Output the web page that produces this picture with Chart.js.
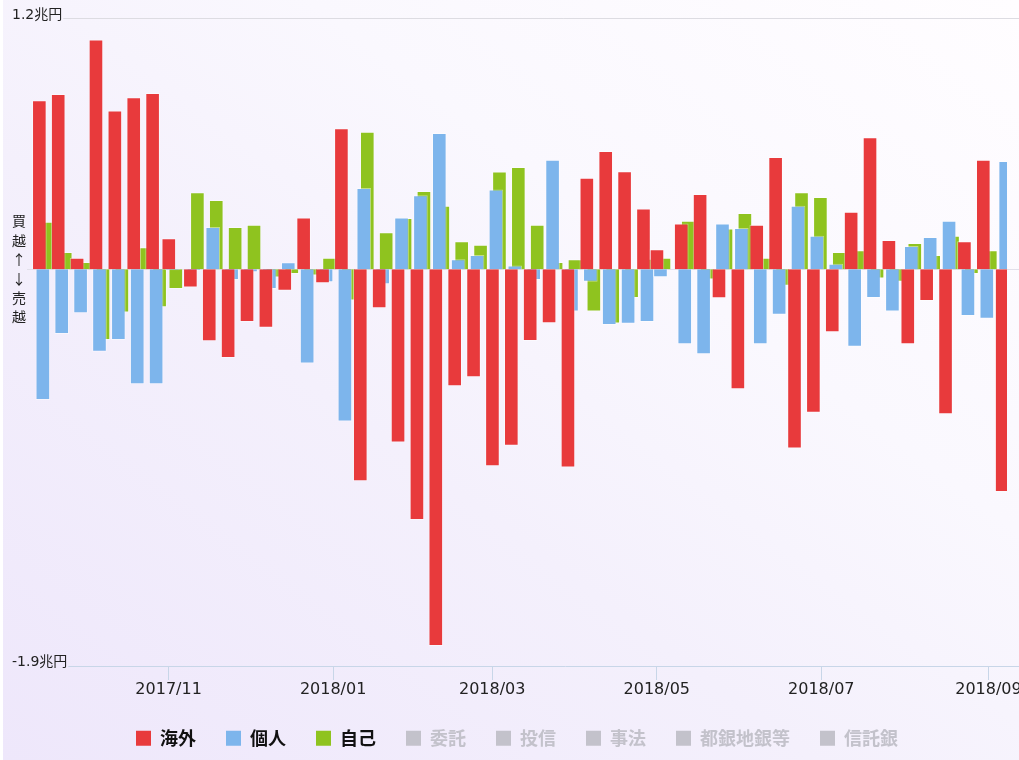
<!DOCTYPE html>
<html lang="ja">
<head>
<meta charset="utf-8">
<title>投資部門別売買動向</title>
<script src="https://cdn.jsdelivr.net/npm/chart.js@4.4.1/dist/chart.umd.min.js"></script>
<style>
  html, body { margin: 0; padding: 0; background: #fff; overflow: hidden; }
  #wrap {
    position: absolute; left: 3px; top: 0; width: 1016px; height: 760px; overflow: hidden;
    background: linear-gradient(to top right, #eee7fb 0%, #f4f0fc 40%, #faf8fe 65%, #fffdff 100%);
  }
  #box { position: relative; width: 1060px; height: 760px; }
</style>
</head>
<body>
<div id="wrap"><div id="box"><canvas id="chart"></canvas></div></div>
<script>
// --- data (億円, weekly net buying; x = last trading day of the week) ---
const weeks = [
  '2017-09-15','2017-09-22','2017-09-29','2017-10-06','2017-10-13','2017-10-20','2017-10-27',
  '2017-11-02','2017-11-10','2017-11-17','2017-11-24','2017-12-01','2017-12-08','2017-12-15',
  '2017-12-22','2017-12-29','2018-01-05','2018-01-12','2018-01-19','2018-01-26','2018-02-02',
  '2018-02-09','2018-02-16','2018-02-23','2018-03-02','2018-03-09','2018-03-16','2018-03-23',
  '2018-03-30','2018-04-06','2018-04-13','2018-04-20','2018-04-27','2018-05-02','2018-05-11',
  '2018-05-18','2018-05-25','2018-06-01','2018-06-08','2018-06-15','2018-06-22','2018-06-29',
  '2018-07-06','2018-07-13','2018-07-20','2018-07-27','2018-08-03','2018-08-10','2018-08-17',
  '2018-08-24','2018-08-31','2018-09-07'
];
const kaigai = [
  8090, 8390, 540, 11000, 7590, 8230, 8430,
  1480, -880, -3450, -4250, -2530, -2810, -1030,
  2470, -680, 6740, -10150, -1870, -8300, -12010,
  -18040, -5610, -5180, -9440, -8450, -3440, -2590,
  -9500, 4380, 5660, 4690, 2900, 950, 2180,
  3600, -1390, -5750, 2120, 5370, -8590, -6870,
  -3020, 2750, 6310, 1400, -3600, -1520, -6950,
  1340, 5240, -10670
];
const kojin = [
  -6260, -3100, -2110, -3950, -3390, -5510, -5510,
  -50, -80, 2020, -520, -150, -950, 330,
  -4520, -630, -7300, 3890, -720, 2470, 3540,
  6520, 470, 680, 3810, 170, -520, 5240,
  -2030, -600, -2670, -2610, -2530, -390, -3600,
  -4080, 2180, 1970, -3600, -2180, 3040, 1600,
  260, -3720, -1380, -2030, 1110, 1540, 2320,
  -2240, -2380, 5180
];
const jiko = [
  2270, 820, 340, -3390, -2080, 1050, -1820,
  -950, 3680, 3310, 2020, 2120, -400, -230,
  -300, 540, -1500, 6580, 1770, 2450, 3740,
  3030, 1340, 1170, 4670, 4890, 2120, 340,
  470, -2030, -2600, -1380, 500, 540, 2320,
  -500, 1940, 2690, 540, -800, 3680, 3460,
  820, 900, -450, -600, 1250, 680, 1600,
  -230, 900, 4030
];
const hiddenSeries = ['委託', '投信', '事法', '都銀地銀等', '信託銀'];
const tickMonths = ['2017-11-01','2018-01-01','2018-03-01','2018-05-01','2018-07-01','2018-09-01'];
const Y_MIN = -19000, Y_MAX = 12000;
const AXIS_MIN = '2017-09-09T12:00', AXIS_MAX = '2018-09-07T20:40';

// --- helpers ---
const DAY = 864e5;
const JST = 9 / 24; // dates are UTC midnight shown in JST
const toDay = s => Date.parse(s + (s.length === 10 ? 'T00:00Z' : 'Z')) / DAY;
const pts = vals => weeks.map((w, i) => ({x: toDay(w) + JST, y: vals[i]}));
const cho = v => (v / 10000) + '兆円';
const GREY = '#c3c2cb';
const LABEL_FONT = '14px "DejaVu Sans", "Noto Sans CJK JP"';

const bar = (label, vals, color) => ({
  label, data: pts(vals), backgroundColor: color,
  borderColor: 'rgba(255,255,255,0.45)', borderWidth: 1,
  categoryPercentage: 0.78, barPercentage: 4.17
});

const datasets = [
  bar('海外', kaigai, '#e83a3c'),
  bar('個人', kojin, '#7db5ec'),
  bar('自己', jiko, '#8fc31f')
].concat(hiddenSeries.map(n => ({label: n, data: [], hidden: true, backgroundColor: GREY})));

// --- axis labels, guide lines, vertical 買越/売越 ---
const decor = {
  id: 'decor',
  beforeDatasetsDraw(chart) {
    const {ctx, chartArea, scales: {y}} = chart;
    ctx.save();
    ctx.font = LABEL_FONT;
    ctx.lineWidth = 1;
    const hline = (x1, py, color) => {
      const yy = Math.floor(py) + 0.5;
      ctx.strokeStyle = color;
      ctx.beginPath(); ctx.moveTo(x1, yy); ctx.lineTo(chart.width, yy); ctx.stroke();
    };
    hline(chartArea.left, y.getPixelForValue(0), '#e2e0ea');
    hline(9 + ctx.measureText(cho(Y_MAX)).width + 1, y.getPixelForValue(Y_MAX), '#dddce2');
    hline(9 + ctx.measureText(cho(Y_MIN)).width + 1, y.getPixelForValue(Y_MIN), '#c8d6e8');
    ctx.restore();
  },
  afterDraw(chart) {
    const {ctx, scales: {y}} = chart;
    ctx.save();
    ctx.fillStyle = '#222';
    ctx.font = LABEL_FONT;
    ctx.textBaseline = 'alphabetic';
    ctx.fillText(cho(Y_MAX), 9, y.getPixelForValue(Y_MAX) + 0.5);
    ctx.fillText(cho(Y_MIN), 9, y.getPixelForValue(Y_MIN));
    ctx.font = '14px "Noto Sans CJK JP"';
    ctx.textAlign = 'center';
    ctx.textBaseline = 'middle';
    const chars = ['買', '越', '↑', '↓', '売', '越'];
    const y0 = y.getPixelForValue(0);
    chars.forEach((c, i) => ctx.fillText(c, 16, y0 + (i - 2.5) * 19.2));
    ctx.restore();
  }
};

new Chart(document.getElementById('chart'), {
  type: 'bar',
  data: {datasets},
  options: {
    responsive: true,
    maintainAspectRatio: false,
    animation: false,
    layout: {padding: {left: 24, right: 56, top: 18.5, bottom: 2.8}},
    scales: {
      x: {
        type: 'linear',
        min: toDay(AXIS_MIN),
        max: toDay(AXIS_MAX),
        offset: false,
        stacked: false,
        afterBuildTicks: axis => { axis.ticks = tickMonths.map(m => ({value: toDay(m)})); },
        ticks: {
          autoSkip: false, maxRotation: 0, padding: 0, color: '#222',
          font: {family: '"DejaVu Sans"', size: 16},
          callback: v => {
            const d = new Date(v * DAY);
            return d.getUTCFullYear() + '/' + String(d.getUTCMonth() + 1).padStart(2, '0');
          }
        },
        grid: {drawOnChartArea: false, offset: false, tickLength: 14, color: '#c8d6e8'},
        border: {display: false}
      },
      y: {display: false, min: Y_MIN, max: Y_MAX, stacked: false}
    },
    plugins: {
      tooltip: {enabled: false},
      legend: {
        position: 'bottom',
        labels: {
          boxWidth: 15, boxHeight: 15, padding: 30,
          font: {family: '"Noto Sans CJK JP"', size: 18, weight: 'bold'},
          generateLabels: chart => chart.data.datasets.map((ds, i) => {
            const on = chart.isDatasetVisible(i);
            return {
              text: ds.label, datasetIndex: i, hidden: false, lineWidth: 0,
              fillStyle: on ? ds.backgroundColor : GREY, strokeStyle: 'transparent',
              fontColor: on ? '#111' : GREY
            };
          })
        }
      }
    }
  },
  plugins: [decor]
});
</script>
</body>
</html>
